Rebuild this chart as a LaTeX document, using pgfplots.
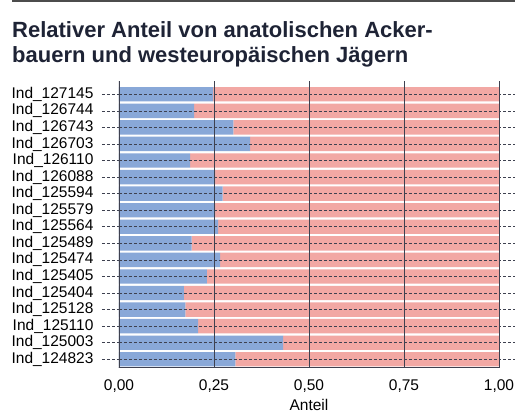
\documentclass[border=0pt]{standalone}
\usepackage{pgfplots}
\pgfplotsset{compat=1.18}
\usepackage{pgfplotstable}
\usepackage{fontspec}
\setmainfont{Liberation Sans}
\definecolor{bblue}{HTML}{89A8D8}
\definecolor{bred}{HTML}{F2A8A4}
\definecolor{gridc}{HTML}{3E4150}
\definecolor{titlec}{HTML}{1E2335}
\pgfplotstableread{
y blue red
0 0.306 0.694
1 0.432 0.568
2 0.208 0.792
3 0.175 0.825
4 0.171 0.829
5 0.231 0.769
6 0.266 0.734
7 0.191 0.809
8 0.261 0.739
9 0.253 0.747
10 0.273 0.727
11 0.253 0.747
12 0.187 0.813
13 0.345 0.655
14 0.301 0.699
15 0.198 0.802
16 0.248 0.752
}\datatable
\begin{document}
\begin{tikzpicture}
\useasboundingbox (0pt,0pt) rectangle (515pt,414pt);
\draw[line width=2.5pt, gray!60!black] (12pt,413pt) -- (515pt,413pt);
\node[anchor=base west, inner sep=0, font=\fontsize{22}{25}\selectfont\bfseries, text=titlec] at (12pt,376.7pt) {Relativer Anteil von anatolischen Acker-};
\node[anchor=base west, inner sep=0, font=\fontsize{22}{25}\selectfont\bfseries, text=titlec] at (12pt,351.3pt) {bauern und westeuropäischen Jägern};
\begin{axis}[
  at={(119pt,46.3pt)}, anchor=south west,
  scale only axis, width=380pt, height=286.7pt,
  xmin=0, xmax=1, ymin=-0.507, ymax=16.8,
  xbar stacked, bar width=14.4pt,
  axis on top,
  axis line style={draw=none},
  xtick={0,0.25,0.5,0.75,1},
  xticklabel style={yshift=9pt, /pgf/number format/.cd, use comma, fixed, fixed zerofill, precision=2},
  yticklabel style={xshift=-5pt},
  /pgf/number format/assume math mode=true,
  ytick={0,...,16},
  yticklabels={Ind\_124823,Ind\_125003,Ind\_125110,Ind\_125128,Ind\_125404,Ind\_125405,Ind\_125474,Ind\_125489,Ind\_125564,Ind\_125579,Ind\_125594,Ind\_126088,Ind\_126110,Ind\_126703,Ind\_126743,Ind\_126744,Ind\_127145},
  tick label style={font=\fontsize{15.5}{17}\selectfont, text=black},
  major tick length=17pt,
  tick align=outside,
  xtick style={draw=none},
  ytick style={draw=gridc, densely dashed, line width=0.6pt},
  xmajorgrids, ymajorgrids,
  x grid style={draw=gridc, line width=0.7pt},
  y grid style={draw=gridc, densely dashed, line width=0.6pt},
  xlabel={Anteil},
  xlabel style={yshift=0pt},
  label style={font=\fontsize{15.5}{17}\selectfont},
]
\addplot[fill=bblue, draw=none] table[x=blue, y=y] {\datatable};
\addplot[fill=bred, draw=none] table[x=red, y=y] {\datatable};
\draw[gridc, line width=1pt] (rel axis cs:0,0) -- (rel axis cs:0,1);
\draw[gridc, line width=1.2pt] ([xshift=-26pt]rel axis cs:0,0) -- ([xshift=4pt]rel axis cs:1,0);
\end{axis}
\end{tikzpicture}
\end{document}
